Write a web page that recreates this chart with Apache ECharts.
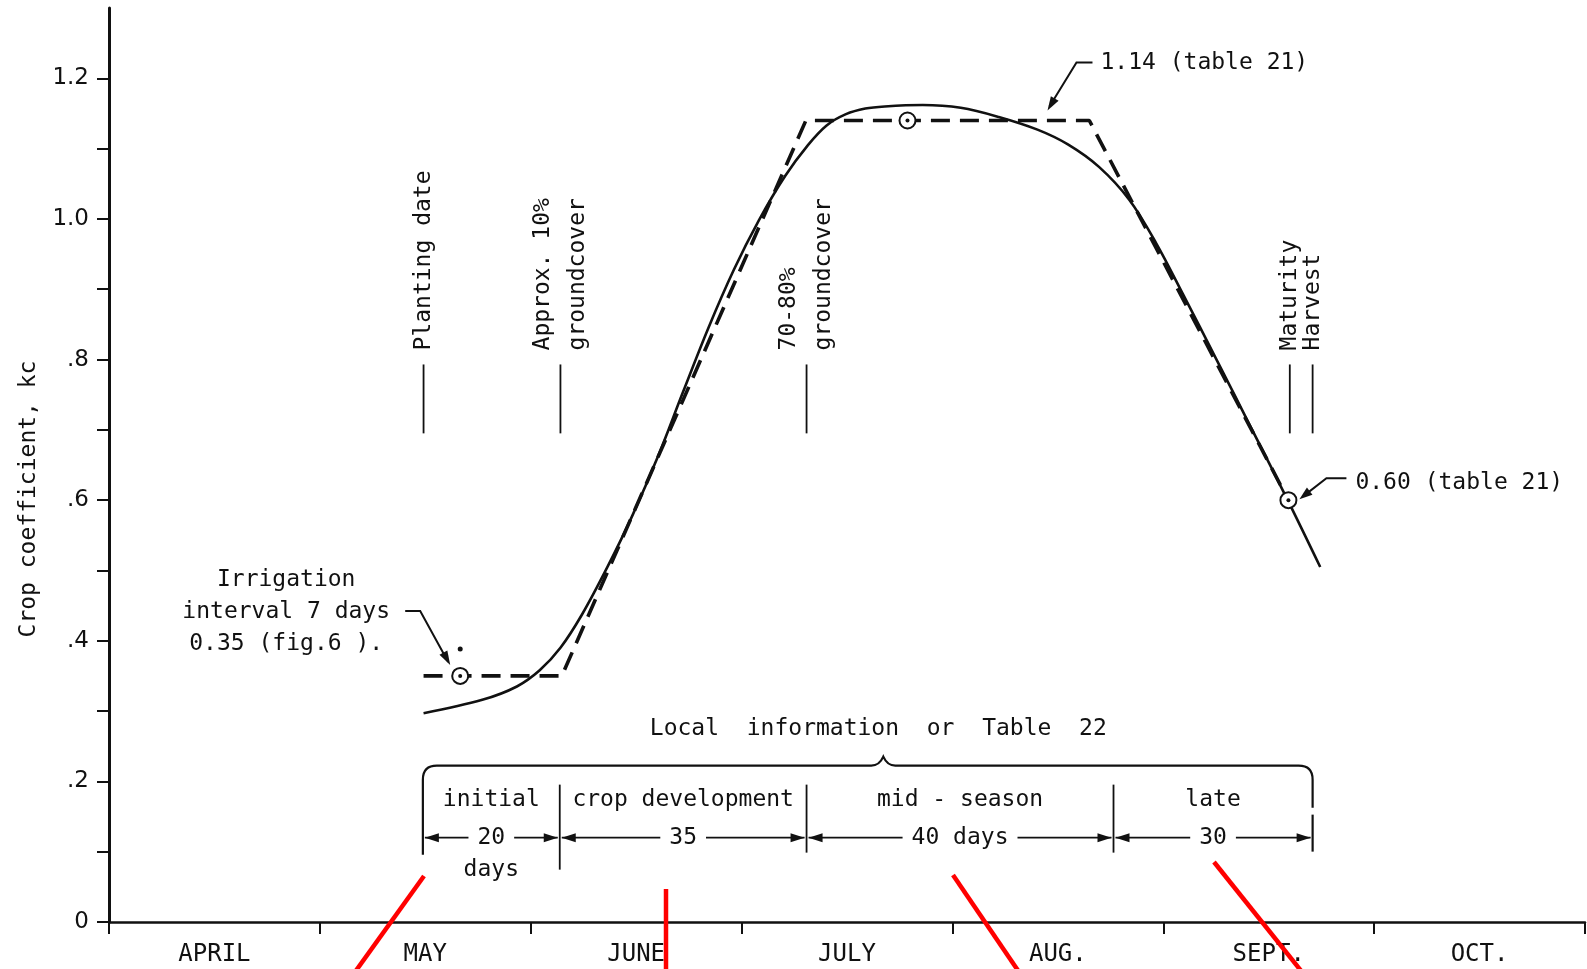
<!DOCTYPE html>
<html>
<head>
<meta charset="utf-8">
<title>Crop coefficient curve</title>
<script src="https://cdn.jsdelivr.net/npm/echarts@6/dist/echarts.min.js"></script>
<style>
html, body { margin: 0; padding: 0; background: #fff; }
#main { width: 1587px; height: 969px; }
</style>
</head>
<body>
<div id="main"></div>
<script>
// x = days counted from 1 April (30.5 days per month on the drawing), y = crop coefficient kc
const months = ['APRIL', 'MAY', 'JUNE', 'JULY', 'AUG.', 'SEPT.', 'OCT.'];
const yTickValues = [0, 0.2, 0.4, 0.6, 0.8, 1.0, 1.2];
const yTickLabels = ['0', '.2', '.4', '.6', '.8', '1.0', '1.2'];
const yMinorTicks = [0, 0.1, 0.2, 0.3, 0.4, 0.5, 0.6, 0.7, 0.8, 0.9, 1.0, 1.1, 1.2];

// smooth kc curve as drawn
const curveDays = [45.5, 54, 59, 62.3, 65.3, 68.4, 72.1, 75.7, 79.4, 83, 86.7, 90.4, 94, 97.8, 101.1, 103.8, 106.6,
    109.4, 112.2, 117.7, 123.2, 128.7, 134.3, 138.7, 143.2, 147.6, 151.5, 155.4, 160.2, 165.1, 170.6, 175.2];
const curveKc = [0.297, 0.316, 0.335, 0.358, 0.39, 0.437, 0.505, 0.578, 0.662, 0.753, 0.845, 0.928, 0.998, 1.061, 1.105, 1.133, 1.149,
    1.157, 1.16, 1.162, 1.158, 1.145, 1.127, 1.106, 1.074, 1.027, 0.965, 0.892, 0.8, 0.705, 0.598, 0.505];

// straight-line kc construction (dashed)
const stepDays = [45.5, 65.5, 100.8, 141.8, 170.6];
const stepKc = [0.35, 0.35, 1.14, 1.14, 0.60];

// circled points
const pointDays = [50.8, 115.5, 170.6];
const pointKc = [0.35, 1.14, 0.60];

// crop events
const eventDays = [45.5, 65.3, 100.9, 170.8, 174.1];
const eventLabels = ['Planting date', 'Approx. 10%\ngroundcover', '70-80%\ngroundcover', 'Maturity', 'Harvest'];

// growth stages
const stageStart = [45.4, 65.2, 100.9, 145.3];
const stageEnd = [65.2, 100.9, 145.3, 174.1];
const stageNames = ['initial', 'crop development', 'mid - season', 'late'];
const stageLengths = ['20', '35', '40 days', '30'];
const stageNotes = ['days', '', '', ''];
const braceMid = 112;

const ink = '#111';
const mono = '"DejaVu Sans Mono", monospace';
const font = (s) => s + 'px ' + mono;

function zip(a, b) {
    return a.map((v, i) => [v, b[i]]);
}

function vline(x, y1, y2, w) {
    return { type: 'line', shape: { x1: x, y1: y1, x2: x, y2: y2 }, style: { stroke: ink, lineWidth: w || 1.8 } };
}

function arrowHead(tip, from, len, half) {
    let dx = tip[0] - from[0], dy = tip[1] - from[1];
    const n = Math.sqrt(dx * dx + dy * dy);
    dx /= n; dy /= n;
    const bx = tip[0] - dx * len, by = tip[1] - dy * len;
    return {
        type: 'polygon',
        shape: { points: [tip, [bx - dy * half, by + dx * half], [bx + dy * half, by - dx * half]] },
        style: { fill: ink }
    };
}

function renderEvent(params, api) {
    const day = api.value(0);
    const lo = api.coord([day, 0.695]);
    const hi = api.coord([day, 0.793]);
    return {
        type: 'group',
        children: [
            vline(lo[0], lo[1], hi[1]),
            {
                type: 'text', x: hi[0], y: hi[1] - 14, rotation: Math.PI / 2,
                style: { text: eventLabels[params.dataIndex], font: font(23), fill: ink,
                    align: 'left', verticalAlign: 'middle', lineHeight: 35 }
            }
        ]
    };
}

function renderStage(params, api) {
    const i = params.dataIndex;
    const a = api.coord([api.value(0), 0.12]);
    const b = api.coord([api.value(1), 0.12]);
    const y = a[1];
    const mid = (a[0] + b[0]) / 2;
    const kids = [];
    if (i > 0) kids.push(vline(a[0], y - 53, y + (i === 1 ? 32 : 15)));
    if (i === stageStart.length - 1) kids.push(vline(b[0], y - 23, y + 14, 2.2));
    kids.push({ type: 'line', shape: { x1: a[0] + 2, y1: y, x2: b[0] - 2, y2: y }, style: { stroke: ink, lineWidth: 1.6 } });
    kids.push(arrowHead([a[0] + 2, y], [a[0] + 20, y], 14, 4.5));
    kids.push(arrowHead([b[0] - 2, y], [b[0] - 20, y], 14, 4.5));
    kids.push({
        type: 'text', x: mid, y: y,
        style: { text: stageLengths[i], font: font(23), fill: ink, align: 'center', verticalAlign: 'middle',
            backgroundColor: '#fff', padding: [0, 9] }
    });
    kids.push({
        type: 'text', x: mid, y: y - 38,
        style: { text: stageNames[i], font: font(23), fill: ink, align: 'center', verticalAlign: 'middle' }
    });
    if (stageNotes[i]) {
        kids.push({
            type: 'text', x: mid, y: y + 32,
            style: { text: stageNotes[i], font: font(23), fill: ink, align: 'center', verticalAlign: 'middle' }
        });
    }
    return { type: 'group', children: kids };
}

function renderBrace(params, api) {
    const a = api.coord([api.value(0), 0.12]);
    const b = api.coord([api.value(1), 0.12]);
    const m = api.coord([api.value(2), 0.12]);
    const y = a[1];
    const top = y - 72, r = 14, x0 = a[0], x1 = b[0], xm = m[0];
    const d = 'M ' + x0 + ' ' + (y + 17) +
        ' L ' + x0 + ' ' + (top + r) +
        ' Q ' + x0 + ' ' + top + ' ' + (x0 + r) + ' ' + top +
        ' L ' + (xm - 12) + ' ' + top +
        ' Q ' + (xm - 4) + ' ' + top + ' ' + xm + ' ' + (top - 9) +
        ' Q ' + (xm + 4) + ' ' + top + ' ' + (xm + 12) + ' ' + top +
        ' L ' + (x1 - r) + ' ' + top +
        ' Q ' + x1 + ' ' + top + ' ' + x1 + ' ' + (top + r) +
        ' L ' + x1 + ' ' + (y - 30);
    return {
        type: 'group',
        children: [
            { type: 'path', shape: { pathData: d }, style: { stroke: ink, lineWidth: 2.2, fill: null } },
            {
                type: 'text', x: xm - 5, y: top - 37,
                style: { text: 'Local  information  or  Table  22', font: font(23), fill: ink,
                    align: 'center', verticalAlign: 'middle' }
            }
        ]
    };
}

const chart = echarts.init(document.getElementById('main'));

const option = {
    animation: false,
    backgroundColor: '#fff',
    grid: { left: 109, right: 2, top: 8, bottom: 47 },
    xAxis: [{
        type: 'value',
        min: 0,
        max: 213.5,
        interval: 30.5,
        axisLine: { lineStyle: { color: ink, width: 2.5 } },
        axisTick: { length: 12, lineStyle: { color: ink, width: 2 } },
        axisLabel: { show: false },
        splitLine: { show: false }
    }, {
        type: 'category',
        data: months,
        position: 'bottom',
        boundaryGap: true,
        axisLine: { show: false },
        axisTick: { show: false },
        axisLabel: { color: ink, fontFamily: mono, fontSize: 24, margin: 21 }
    }],
    yAxis: {
        type: 'value',
        min: 0,
        max: 1.3,
        interval: 0.1,
        name: 'Crop coefficient, kc',
        nameLocation: 'middle',
        nameGap: 68,
        nameTextStyle: { color: ink, fontFamily: mono, fontSize: 23, padding: [0, 68, 0, 0] },
        axisLine: { lineStyle: { color: ink, width: 3 } },
        axisTick: { length: 12, customValues: yMinorTicks, lineStyle: { color: ink, width: 2 } },
        axisLabel: {
            color: ink,
            fontFamily: '"DejaVu Sans", sans-serif',
            fontSize: 23,
            margin: 20,
            customValues: yTickValues,
            formatter: function (v) {
                const idx = yTickValues.findIndex(t => Math.abs(t - v) < 1e-6);
                return idx < 0 ? '' : yTickLabels[idx];
            }
        },
        splitLine: { show: false }
    },
    series: [{
        name: 'kc curve',
        type: 'line',
        data: zip(curveDays, curveKc),
        smooth: 0.35,
        showSymbol: false,
        lineStyle: { color: ink, width: 2.6 },
        z: 3
    }, {
        name: 'kc construction',
        type: 'line',
        data: zip(stepDays, stepKc),
        showSymbol: false,
        lineStyle: { color: ink, width: 3.6, type: [19, 10] },
        z: 4
    }, {
        name: 'points',
        type: 'scatter',
        data: zip(pointDays, pointKc),
        symbol: 'emptyCircle',
        symbolSize: 16,
        itemStyle: { color: ink, borderWidth: 2.8, opacity: 1 },
        z: 5
    }, {
        name: 'point centres',
        type: 'scatter',
        data: zip(pointDays, pointKc),
        symbol: 'circle',
        symbolSize: 4,
        itemStyle: { color: ink, opacity: 1 },
        z: 6
    }, {
        name: 'events',
        type: 'custom',
        renderItem: renderEvent,
        data: eventDays.map((d, i) => [d, 0.75]),
        z: 2
    }, {
        name: 'stages',
        type: 'custom',
        renderItem: renderStage,
        data: stageStart.map((d, i) => [d, stageEnd[i]]),
        encode: { x: [0, 1], y: [] },
        z: 2
    }, {
        name: 'brace',
        type: 'custom',
        renderItem: renderBrace,
        data: [[stageStart[0], stageEnd[stageEnd.length - 1], braceMid]],
        encode: { x: [0, 1, 2], y: [] },
        z: 2
    }]
};

chart.setOption(option);

const px = (d, k) => chart.convertToPixel({ gridIndex: 0 }, [d, k]);
const p0 = px(pointDays[0], pointKc[0]);
const p1 = px(pointDays[1], pointKc[1]);
const p2 = px(pointDays[2], pointKc[2]);

function leader(pts) {
    return { type: 'polyline', shape: { points: pts }, style: { stroke: ink, lineWidth: 2, fill: null } };
}

const graphics = [
    {
        type: 'text', x: p0[0] - 174, y: p0[1] - 64,
        style: { text: 'Irrigation\ninterval 7 days\n0.35 (fig.6 ).', font: font(23), fill: ink,
            align: 'center', verticalAlign: 'middle', lineHeight: 32 }
    },
    leader([[p0[0] - 55, p0[1] - 65], [p0[0] - 40, p0[1] - 65], [p0[0] - 12, p0[1] - 14]]),
    arrowHead([p0[0] - 10, p0[1] - 11], [p0[0] - 40, p0[1] - 65], 14, 4.5),
    { type: 'circle', shape: { cx: p0[0], cy: p0[1] - 27, r: 2.5 }, style: { fill: ink } },

    {
        type: 'text', x: p1[0] + 193, y: p1[1] - 57,
        style: { text: '1.14 (table 21)', font: font(23), fill: ink, align: 'left', verticalAlign: 'middle' }
    },
    leader([[p1[0] + 185, p1[1] - 58], [p1[0] + 169, p1[1] - 58], [p1[0] + 142, p1[1] - 14]]),
    arrowHead([p1[0] + 140, p1[1] - 10], [p1[0] + 169, p1[1] - 58], 14, 4.5),

    {
        type: 'text', x: p2[0] + 67, y: p2[1] - 17,
        style: { text: '0.60 (table 21)', font: font(23), fill: ink, align: 'left', verticalAlign: 'middle' }
    },
    leader([[p2[0] + 58, p2[1] - 22], [p2[0] + 38, p2[1] - 22], [p2[0] + 15, p2[1] - 4]]),
    arrowHead([p2[0] + 11, p2[1] - 1], [p2[0] + 38, p2[1] - 22], 13, 4.5)
];

// red pen strokes drawn over the scan
const redStroke = (x1, y1, x2, y2) => ({
    type: 'line', z: 100,
    shape: { x1: x1, y1: y1, x2: x2, y2: y2 },
    style: { stroke: '#ff0000', lineWidth: 4.5 }
});
graphics.push(redStroke(424, 876, 355, 972));
graphics.push(redStroke(666, 889, 666, 972));
graphics.push(redStroke(953, 875, 1019, 972));
graphics.push(redStroke(1214, 862, 1302, 972));

chart.setOption({ graphic: graphics });
</script>
</body>
</html>
